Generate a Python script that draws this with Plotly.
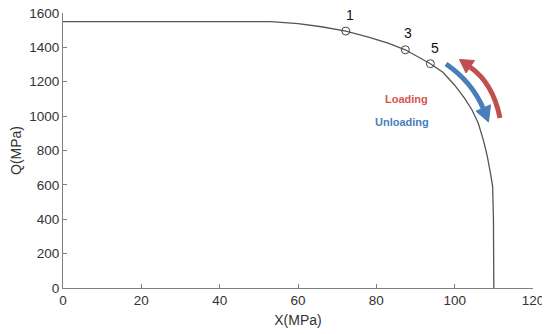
import plotly.graph_objects as go

# ---- data ----
x_curve = [0, 53, 60, 66, 72.2, 78, 83, 87.4, 93.8, 97, 100, 102.5, 104.4, 106, 107.3, 108.3, 109.2, 109.7, 109.9, 110]
q_curve = [1550, 1550, 1538, 1520, 1495, 1460, 1425, 1386, 1305, 1255, 1180, 1105, 1037, 960, 863, 770, 660, 590, 400, 0]

point_x = [72.2, 87.4, 93.8]
point_q = [1495, 1386, 1305]
point_labels = ["1", "3", "5"]

x_ticks = [0, 20, 40, 60, 80, 100, 120]
y_ticks = [0, 200, 400, 600, 800, 1000, 1200, 1400, 1600]

# ---- layout geometry (page has an 8px body margin) ----
OFF = 8
W, H = 550 - OFF, 334 - OFF
ML, MR, MT, MB = 63 - OFF, 17, 13 - OFF, 46
XR = (0, 120)
YR = (0, 1600)
PW, PH = W - ML - MR, H - MT - MB


def to_data(px, py):
    # px, py: window pixel positions
    fx, fy = px - OFF, py - OFF
    x = XR[0] + (fx - ML) / PW * (XR[1] - XR[0])
    y = YR[0] + (H - MB - fy) / PH * (YR[1] - YR[0])
    return x, y


def path_str(cmds):
    out = []
    for c, pts in cmds:
        coords = []
        for (px, py) in pts:
            x, y = to_data(px, py)
            coords.append(f"{x:.4f},{y:.4f}")
        out.append(c + " " + " ".join(coords))
    return " ".join(out)


FONT = "Liberation Sans, Arial, sans-serif"
RED = "#C0504D"
BLUE = "#4A7EBB"

fig = go.Figure()
fig.add_trace(go.Scatter(x=x_curve, y=q_curve, mode="lines",
                         line=dict(color="#555555", width=1.3),
                         hoverinfo="skip", showlegend=False, cliponaxis=False))
fig.add_trace(go.Scatter(x=point_x, y=point_q, mode="markers",
                         marker=dict(symbol="circle-open", size=8,
                                     color="#444444", line=dict(width=1)),
                         showlegend=False, cliponaxis=False))

shapes = []
# blue (unloading) curved arrow
shapes.append(dict(type="path", xref="x", yref="y",
                   path=path_str([("M", [(446, 64)]), ("Q", [(472, 82), (483, 108)])]),
                   line=dict(color=BLUE, width=5), fillcolor="rgba(0,0,0,0)"))
shapes.append(dict(type="path", xref="x", yref="y",
                   path=path_str([("M", [(490.5, 104.8)]), ("L", [(488.5, 122)]), ("L", [(476, 111.2)])]) + " Z",
                   line=dict(color=BLUE, width=1), fillcolor=BLUE))
# red (loading) curved arrow
shapes.append(dict(type="path", xref="x", yref="y",
                   path=path_str([("M", [(500, 118)]), ("Q", [(493, 83), (470, 67)])]),
                   line=dict(color=RED, width=5), fillcolor="rgba(0,0,0,0)"))
shapes.append(dict(type="path", xref="x", yref="y",
                   path=path_str([("M", [(474.5, 60.5)]), ("L", [(459.5, 59.5)]), ("L", [(466, 73)])]) + " Z",
                   line=dict(color=RED, width=1), fillcolor=RED))

lx, ly = to_data(406.7, 99.3)
ux, uy = to_data(401.7, 121.7)
annotations = [
    dict(x=lx, y=ly, xref="x", yref="y", text="<b>Loading</b>", showarrow=False,
         font=dict(family=FONT, size=11, color="#D9534F")),
    dict(x=ux, y=uy, xref="x", yref="y", text="<b>Unloading</b>", showarrow=False,
         font=dict(family=FONT, size=11, color=BLUE)),
]
label_shift = [(4, 16), (3, 17), (5, 16)]
for px_, pq_, lab, (dx, dy) in zip(point_x, point_q, point_labels, label_shift):
    annotations.append(dict(x=px_, y=pq_, xref="x", yref="y", text=lab,
                            showarrow=False, xshift=dx, yshift=dy,
                            font=dict(family=FONT, size=14, color="#111111")))

axis_common = dict(showline=True, linecolor="#808080", linewidth=1,
                   ticks="inside", ticklen=4, tickcolor="#808080", tickwidth=1,
                   showgrid=False, zeroline=False, automargin=False,
                   ticklabeloverflow="allow",
                   tickfont=dict(family=FONT, size=13.5, color="#333333"))

fig.update_layout(
    width=W, height=H,
    margin=dict(l=ML, r=MR, t=MT, b=MB),
    paper_bgcolor="white", plot_bgcolor="white",
    shapes=shapes, annotations=annotations,
    xaxis=dict(range=list(XR), tickvals=x_ticks,
               title=dict(text="X(MPa)", standoff=7,
                          font=dict(family=FONT, size=14, color="#333333")),
               **axis_common),
    yaxis=dict(range=list(YR), tickvals=y_ticks,
               title=dict(text="Q(MPa)", standoff=6,
                          font=dict(family=FONT, size=14, color="#333333")),
               **axis_common),
)

fig.write_html("out.html")
